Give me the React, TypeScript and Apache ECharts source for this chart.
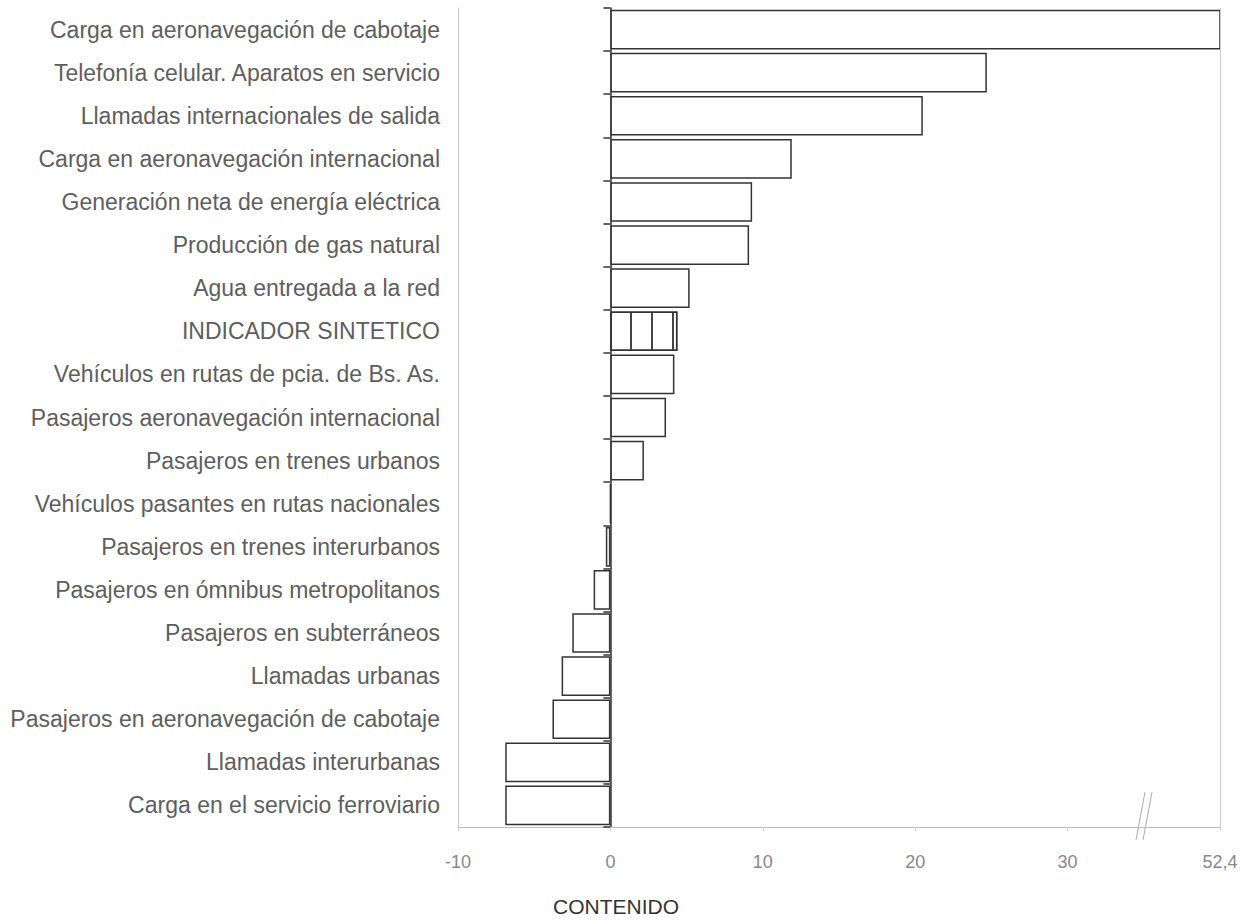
import React, { useEffect, useRef } from "react";
import * as echarts from "echarts";

const categories: string[] = [
  "Carga en aeronavegación de cabotaje",
  "Telefonía celular. Aparatos en servicio",
  "Llamadas internacionales de salida",
  "Carga en aeronavegación internacional",
  "Generación neta de energía eléctrica",
  "Producción de gas natural",
  "Agua entregada a la red",
  "INDICADOR SINTETICO",
  "Vehículos en rutas de pcia. de Bs. As.",
  "Pasajeros aeronavegación internacional",
  "Pasajeros en trenes urbanos",
  "Vehículos pasantes en rutas nacionales",
  "Pasajeros en trenes interurbanos",
  "Pasajeros en ómnibus metropolitanos",
  "Pasajeros en subterráneos",
  "Llamadas urbanas",
  "Pasajeros en aeronavegación de cabotaje",
  "Llamadas interurbanas",
  "Carga en el servicio ferroviario",
];

const values: number[] = [
  52.4, 24.7, 20.5, 11.9, 9.3, 9.1, 5.2, 4.4, 4.2, 3.65, 2.2, 0.0, -0.3, -1.1,
  -2.5, -3.2, -3.8, -6.9, -6.9,
];

const highlighted = "INDICADOR SINTETICO";
const axisMin = -10;
const axisBreakAt = 40; // position on the axis where the broken scale ends
const breakLabel = "52,4";
const xTitle = "CONTENIDO";

const FONT = "'Liberation Sans', Arial, Helvetica, sans-serif";

export default function App() {
  const ref = useRef<HTMLDivElement>(null);
  useEffect(() => {
    if (!ref.current) return;
    const chart = echarts.init(ref.current, null, { renderer: "svg" });
    const data = values.map((v, i) =>
      categories[i] === highlighted
        ? {
            value: v,
            itemStyle: {
              decal: {
                symbol: "rect",
                symbolSize: 1,
                dashArrayX: [1.5, 18.5],
                dashArrayY: [10, 0],
                rotation: 0,
                color: "#444",
              },
            },
          }
        : v
    );
    chart.setOption({
      animation: false,
      backgroundColor: "#fff",
      title: {
        text: xTitle,
        left: 553,
        top: 896,
        padding: 0,
        textStyle: { fontFamily: FONT, fontSize: 21, fontWeight: "normal", color: "#333" },
      },
      grid: { left: 458, right: 21, top: 8, bottom: 93, containLabel: false },
      xAxis: {
        type: "value",
        min: axisMin,
        max: axisBreakAt,
        interval: 10,
        axisLine: { show: true, onZero: false, lineStyle: { color: "#bbb", width: 1 } },
        axisTick: { show: true, length: 4, lineStyle: { color: "#ccc" } },
        splitLine: { show: false },
        axisLabel: {
          margin: 26,
          color: "#888",
          fontFamily: FONT,
          fontSize: 18,
          formatter: (v: number) => (v === axisBreakAt ? breakLabel : String(v)),
        },
      },
      yAxis: [
        {
          type: "category",
          data: categories,
          inverse: true,
          position: "left",
          axisLine: { show: true, onZero: false, lineStyle: { color: "#c8c8c8", width: 1 } },
          axisTick: { show: false },
          splitLine: { show: false },
          axisLabel: {
            margin: 18,
            color: "#5e5e5e",
            fontFamily: FONT,
            fontSize: 23,
          },
        },
        {
          type: "category",
          data: categories,
          inverse: true,
          position: "right",
          axisLine: { show: true, onZero: true, lineStyle: { color: "#333", width: 1.5 } },
          axisTick: { show: true, inside: true, length: 7, lineStyle: { color: "#333", width: 1.5 } },
          axisLabel: { show: false },
          splitLine: { show: false },
        },
      ],
      series: [
        {
          type: "bar",
          yAxisIndex: 0,
          data,
          barCategoryGap: "8%",
          clip: true,
          itemStyle: { color: "#fff", borderColor: "#333", borderWidth: 1.5 },
          markLine: {
            silent: true,
            symbol: "none",
            label: { show: false },
            lineStyle: { color: "#c8c8c8", width: 1, type: "solid" },
            data: [{ xAxis: axisBreakAt }],
          },
        },
      ],
      graphic: [
        {
          type: "line",
          shape: { x1: 1136, y1: 840, x2: 1145, y2: 792 },
          style: { stroke: "#aaa", lineWidth: 1 },
        },
        {
          type: "line",
          shape: { x1: 1143, y1: 840, x2: 1152, y2: 792 },
          style: { stroke: "#aaa", lineWidth: 1 },
        },
      ],
    });
    return () => chart.dispose();
  }, []);
  return (
    <div
      ref={ref}
      style={{ position: "fixed", left: 0, top: 0, width: 1241, height: 920 }}
    />
  );
}
